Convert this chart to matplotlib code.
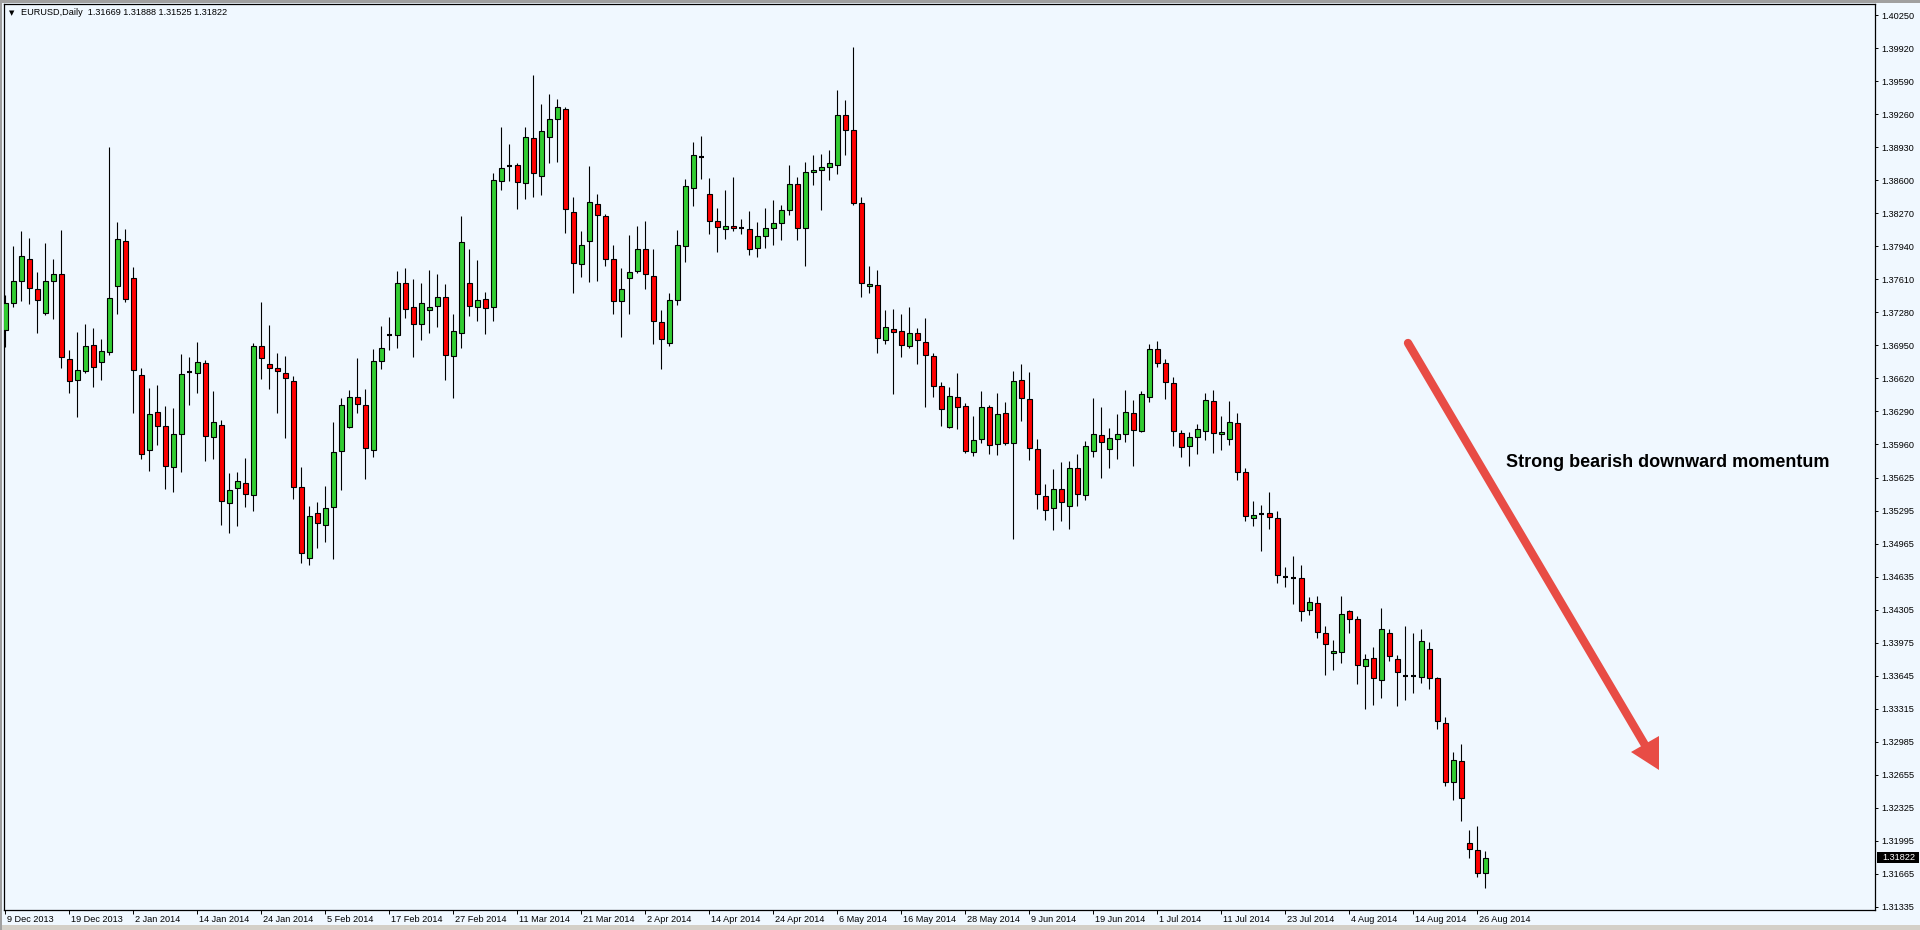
import matplotlib
matplotlib.use("Agg")
import matplotlib.pyplot as plt
from matplotlib.patches import Rectangle, Polygon
from matplotlib.lines import Line2D
from matplotlib.transforms import ScaledTranslation
import numpy as np

# EURUSD daily candles, 9 Dec 2013 .. 27 Aug 2014
opens = [1.3710, 1.3737, 1.3759, 1.3781, 1.3751, 1.3727, 1.3759, 1.3766, 1.3681, 1.3660,
         1.3669, 1.3695, 1.3678, 1.3688, 1.3754, 1.3799, 1.3762, 1.3665, 1.3590, 1.3628,
         1.3614, 1.3573, 1.3606, 1.3668, 1.3667, 1.3677, 1.3603, 1.3615, 1.3537, 1.3552,
         1.3557, 1.3545, 1.3694, 1.3676, 1.3672, 1.3667, 1.3659, 1.3553, 1.3482, 1.3527,
         1.3515, 1.3533, 1.3589, 1.3613, 1.3643, 1.3635, 1.3590, 1.3679, 1.3705, 1.3705,
         1.3757, 1.3733, 1.3716, 1.3730, 1.3734, 1.3743, 1.3684, 1.3707, 1.3757, 1.3733,
         1.3741, 1.3733, 1.3859, 1.3874, 1.3875, 1.3857, 1.3902, 1.3864, 1.3903, 1.3921,
         1.3931, 1.3828, 1.3776, 1.3799, 1.3836, 1.3824, 1.3781, 1.3739, 1.3762, 1.3769,
         1.3791, 1.3764, 1.3718, 1.3697, 1.3740, 1.3794, 1.3852, 1.3883, 1.3846, 1.3819,
         1.3811, 1.3814, 1.3812, 1.3811, 1.3792, 1.3804, 1.3812, 1.3817, 1.3830, 1.3856,
         1.3812, 1.3868, 1.3870, 1.3873, 1.3875, 1.3925, 1.3910, 1.3837, 1.3754, 1.3755,
         1.3700, 1.3711, 1.3709, 1.3694, 1.3707, 1.3698, 1.3684, 1.3654, 1.3613, 1.3643,
         1.3634, 1.3588, 1.3601, 1.3633, 1.3596, 1.3627, 1.3597, 1.3660, 1.3641, 1.3591,
         1.3544, 1.3532, 1.3551, 1.3534, 1.3572, 1.3545, 1.3589, 1.3605, 1.3591, 1.3601,
         1.3606, 1.3627, 1.3609, 1.3643, 1.3691, 1.3677, 1.3657, 1.3607, 1.3594, 1.3603,
         1.3609, 1.3639, 1.3606, 1.3601, 1.3617, 1.3568, 1.3522, 1.3526, 1.3527, 1.3522,
         1.3463, 1.3462, 1.3462, 1.3430, 1.3437, 1.3407, 1.3387, 1.3388, 1.3429, 1.3421,
         1.3374, 1.3382, 1.3360, 1.3407, 1.3381, 1.3364, 1.3364, 1.3363, 1.3391, 1.3362,
         1.3317, 1.3258, 1.3279, 1.3197, 1.3190, 1.31669]
highs = [1.3745, 1.3794, 1.3809, 1.3802, 1.3768, 1.3797, 1.3781, 1.3810, 1.3690, 1.3708,
         1.3716, 1.3712, 1.3701, 1.3893, 1.3818, 1.3811, 1.3773, 1.3672, 1.3652, 1.3655,
         1.3634, 1.3632, 1.3686, 1.3683, 1.3698, 1.3680, 1.3649, 1.3620, 1.3567, 1.3568,
         1.3582, 1.3697, 1.3738, 1.3715, 1.3687, 1.3684, 1.3664, 1.3573, 1.3534, 1.3538,
         1.3554, 1.3618, 1.3642, 1.3650, 1.3682, 1.3651, 1.3691, 1.3714, 1.3723, 1.3769,
         1.3772, 1.3761, 1.3757, 1.3770, 1.3766, 1.3756, 1.3726, 1.3824, 1.3791, 1.3780,
         1.3748, 1.3867, 1.3913, 1.3896, 1.3877, 1.3913, 1.3965, 1.3936, 1.3946, 1.3941,
         1.3933, 1.3843, 1.3809, 1.3874, 1.3846, 1.3826, 1.3795, 1.3772, 1.3805, 1.3814,
         1.3819, 1.3791, 1.3730, 1.3747, 1.3810, 1.3861, 1.3898, 1.3904, 1.3862, 1.3832,
         1.3850, 1.3863, 1.3821, 1.3829, 1.3818, 1.3832, 1.3840, 1.3835, 1.3875, 1.3863,
         1.3878, 1.3885, 1.3886, 1.3890, 1.3950, 1.3940, 1.3993, 1.3843, 1.3774, 1.3770,
         1.3730, 1.3731, 1.3726, 1.3733, 1.3712, 1.3722, 1.3687, 1.3658, 1.3653, 1.3667,
         1.3637, 1.3624, 1.3649, 1.3635, 1.3647, 1.3638, 1.3669, 1.3676, 1.3668, 1.3601,
         1.3556, 1.3571, 1.3578, 1.3579, 1.3586, 1.3599, 1.3642, 1.3633, 1.3612, 1.3626,
         1.3650, 1.3640, 1.3649, 1.3696, 1.3699, 1.3681, 1.3663, 1.3610, 1.3608, 1.3616,
         1.3647, 1.3650, 1.3624, 1.3639, 1.3627, 1.3572, 1.3539, 1.3535, 1.3548, 1.3529,
         1.3473, 1.3484, 1.3475, 1.3443, 1.3444, 1.3414, 1.3400, 1.3444, 1.3430, 1.3424,
         1.3386, 1.3393, 1.3432, 1.3411, 1.3385, 1.3414, 1.3407, 1.3411, 1.3398, 1.3363,
         1.3323, 1.3288, 1.3296, 1.3210, 1.3214, 1.31888]
lows = [1.3693, 1.3733, 1.3739, 1.3736, 1.3707, 1.3725, 1.3721, 1.3672, 1.3647, 1.3623,
        1.3667, 1.3653, 1.3660, 1.3685, 1.3726, 1.3738, 1.3627, 1.3581, 1.3569, 1.3595,
        1.3551, 1.3548, 1.3568, 1.3635, 1.3647, 1.3579, 1.3581, 1.3515, 1.3507, 1.3514,
        1.3533, 1.3529, 1.3661, 1.3651, 1.3627, 1.3602, 1.3541, 1.3477, 1.3475, 1.3492,
        1.3498, 1.3481, 1.3550, 1.3612, 1.3627, 1.3561, 1.3583, 1.3671, 1.3690, 1.3692,
        1.3722, 1.3683, 1.3700, 1.3707, 1.3713, 1.3660, 1.3642, 1.3692, 1.3724, 1.3719,
        1.3706, 1.3719, 1.3850, 1.3859, 1.3831, 1.3841, 1.3843, 1.3845, 1.3877, 1.3878,
        1.3807, 1.3747, 1.3763, 1.3758, 1.3759, 1.3774, 1.3726, 1.3703, 1.3726, 1.3767,
        1.3751, 1.3696, 1.3671, 1.3694, 1.3735, 1.3778, 1.3834, 1.3861, 1.3806, 1.3788,
        1.3801, 1.3809, 1.3806, 1.3785, 1.3783, 1.3792, 1.3795, 1.3800, 1.3825, 1.3800,
        1.3774, 1.3855, 1.3830, 1.3860, 1.3866, 1.3885, 1.3835, 1.3743, 1.3747, 1.3687,
        1.3696, 1.3646, 1.3683, 1.3692, 1.3676, 1.3633, 1.3643, 1.3614, 1.3612, 1.3611,
        1.3587, 1.3584, 1.3597, 1.3586, 1.3585, 1.3595, 1.3501, 1.3619, 1.3580, 1.3531,
        1.3520, 1.3510, 1.3519, 1.3511, 1.3534, 1.3540, 1.3583, 1.3562, 1.3572, 1.3581,
        1.3598, 1.3574, 1.3608, 1.3638, 1.3673, 1.3641, 1.3594, 1.3583, 1.3574, 1.3586,
        1.3600, 1.3587, 1.3590, 1.3595, 1.3560, 1.3519, 1.3514, 1.3489, 1.3511, 1.3457,
        1.3453, 1.3436, 1.3419, 1.3425, 1.3402, 1.3365, 1.3370, 1.3377, 1.3407, 1.3356,
        1.3331, 1.3335, 1.3342, 1.3379, 1.3334, 1.3340, 1.3347, 1.3357, 1.3351, 1.3311,
        1.3254, 1.3240, 1.3219, 1.3182, 1.3163, 1.31525]
closes = [1.3737, 1.3759, 1.3784, 1.3752, 1.3740, 1.3759, 1.3766, 1.3683, 1.3659, 1.3670,
          1.3694, 1.3673, 1.3689, 1.3742, 1.3801, 1.3741, 1.3670, 1.3586, 1.3626, 1.3614,
          1.3574, 1.3606, 1.3666, 1.3668, 1.3678, 1.3604, 1.3618, 1.3539, 1.3550, 1.3559,
          1.3546, 1.3694, 1.3682, 1.3672, 1.3669, 1.3662, 1.3553, 1.3487, 1.3524, 1.3517,
          1.3532, 1.3588, 1.3635, 1.3643, 1.3636, 1.3592, 1.3679, 1.3692, 1.3705, 1.3757,
          1.3731, 1.3716, 1.3737, 1.3733, 1.3743, 1.3685, 1.3709, 1.3798, 1.3734, 1.3740,
          1.3732, 1.3860, 1.3872, 1.3874, 1.3858, 1.3903, 1.3867, 1.3909, 1.3921, 1.3933,
          1.3831, 1.3777, 1.3795, 1.3838, 1.3825, 1.3781, 1.3739, 1.3751, 1.3768, 1.3791,
          1.3766, 1.3719, 1.3701, 1.3740, 1.3795, 1.3854, 1.3885, 1.3883, 1.3819, 1.3813,
          1.3814, 1.3812, 1.3812, 1.3791, 1.3804, 1.3812, 1.3817, 1.3830, 1.3856, 1.3812,
          1.3868, 1.3870, 1.3873, 1.3877, 1.3925, 1.3910, 1.3837, 1.3757, 1.3756, 1.3702,
          1.3713, 1.3708, 1.3695, 1.3707, 1.3700, 1.3685, 1.3654, 1.3631, 1.3644, 1.3633,
          1.3589, 1.3600, 1.3633, 1.3595, 1.3626, 1.3597, 1.3659, 1.3642, 1.3592, 1.3546,
          1.3530, 1.3551, 1.3538, 1.3572, 1.3546, 1.3594, 1.3606, 1.3598, 1.3602, 1.3606,
          1.3628, 1.3610, 1.3646, 1.3691, 1.3677, 1.3658, 1.3609, 1.3593, 1.3603, 1.3611,
          1.3640, 1.3607, 1.3608, 1.3618, 1.3568, 1.3524, 1.3525, 1.3526, 1.3523, 1.3465,
          1.3463, 1.3462, 1.3429, 1.3438, 1.3408, 1.3396, 1.3389, 1.3426, 1.3421, 1.3375,
          1.3381, 1.3362, 1.3411, 1.3384, 1.3368, 1.3364, 1.3364, 1.3399, 1.3362, 1.3319,
          1.3258, 1.3280, 1.3242, 1.3191, 1.3167, 1.31822]

date_labels = ["9 Dec 2013", "19 Dec 2013", "2 Jan 2014", "14 Jan 2014", "24 Jan 2014",
               "5 Feb 2014", "17 Feb 2014", "27 Feb 2014", "11 Mar 2014", "21 Mar 2014",
               "2 Apr 2014", "14 Apr 2014", "24 Apr 2014", "6 May 2014", "16 May 2014",
               "28 May 2014", "9 Jun 2014", "19 Jun 2014", "1 Jul 2014", "11 Jul 2014",
               "23 Jul 2014", "4 Aug 2014", "14 Aug 2014", "26 Aug 2014"]
label_step = 8

price_ticks = [1.40250, 1.39920, 1.39590, 1.39260, 1.38930, 1.38600, 1.38270, 1.37940,
               1.37610, 1.37280, 1.36950, 1.36620, 1.36290, 1.35960, 1.35625, 1.35295,
               1.34965, 1.34635, 1.34305, 1.33975, 1.33645, 1.33315, 1.32985, 1.32655,
               1.32325, 1.31995, 1.31665, 1.31335]

header = "EURUSD,Daily  1.31669 1.31888 1.31525 1.31822"
note = "Strong bearish downward momentum"

W, H = 1920, 930
bg = "#F0F8FF"
plt.rcParams["font.family"] = ["Liberation Sans", "DejaVu Sans"]

fig = plt.figure(figsize=(W / 100, H / 100), dpi=100, facecolor=bg)
# plot frame: x 4..1875, y 4..910 (image pixels)
ax = fig.add_axes([4 / W, (H - 910) / H, 1871 / W, 906 / H])
ax.set_facecolor(bg)

o = np.array(opens)
hi = np.array(highs)
lo = np.array(lows)
c = np.array(closes)
x = np.arange(len(o))

ax.vlines(x, lo, hi, color="black", lw=0.8, zorder=2)
up = c > o
dn = c < o
eq = c == o
bw = 0.6
ax.bar(x[up], (c - o)[up], bottom=o[up], width=bw, color="#32CD32",
       edgecolor="black", linewidth=0.8, zorder=3)
ax.bar(x[dn], (o - c)[dn], bottom=c[dn], width=bw, color="#FF0000",
       edgecolor="black", linewidth=0.8, zorder=3)
ax.hlines(c[eq], x[eq] - bw / 2, x[eq] + bw / 2, color="black", lw=1.5, zorder=3)

ax.set_xlim((4 - 5.33) / 8, (1875 - 5.33) / 8)
ax.set_ylim(1.31303, 1.40363)

for s in ax.spines.values():
    s.set_color("black")
    s.set_linewidth(0.9)

ax.yaxis.tick_right()
ax.set_yticks(price_ticks)
ax.set_yticklabels(["%.5f" % p for p in price_ticks])
ax.tick_params(axis="y", direction="out", length=2.5, width=0.7, pad=2,
               labelsize=6.6, colors="black")

ax.set_xticks(np.arange(0, len(o), label_step))
ax.set_xticklabels(date_labels)
ax.tick_params(axis="x", direction="out", length=3, width=0.7, pad=0.5,
               labelsize=6.6, colors="black")
shift = ScaledTranslation(1.5 / 100, 0, fig.dpi_scale_trans)
for lbl in ax.get_xticklabels():
    lbl.set_horizontalalignment("left")
    lbl.set_transform(lbl.get_transform() + shift)

# window chrome
fig.add_artist(Rectangle((0, (H - 3) / H), 1, 3 / H, transform=fig.transFigure,
                         color="#A0A0A0", lw=0))
fig.add_artist(Rectangle((0, 0), 1, 5 / H, transform=fig.transFigure,
                         color="#D4D0C8", lw=0))
fig.add_artist(Rectangle((0, 0), 2 / W, 1, transform=fig.transFigure,
                         color="#A0A0A0", lw=0))

# header text
fig.text(9 / W, 1 - 13 / H, "\u25bc", fontsize=5, va="center", ha="left",
         family="DejaVu Sans", color="black")
fig.text(21 / W, 1 - 12.5 / H, header, fontsize=6.6, va="center", ha="left",
         color="black")

# last price box
fig.add_artist(Rectangle((1877 / W, 1 - 863 / H), 42 / W, 11 / H,
                         transform=fig.transFigure, color="black", lw=0))
fig.text(1882 / W, 1 - 857.5 / H, "%.5f" % closes[-1], fontsize=6.6,
         va="center", ha="left", color="white")

# annotation arrow and text
red = "#E84C45"
sx, sy = 1408, 343
bx, by = 1645, 745
fig.add_artist(Line2D([sx / W, bx / W], [1 - sy / H, 1 - by / H],
                      transform=fig.transFigure, color=red, lw=6,
                      solid_capstyle="round"))
head = [(1659, 770), (1631, 752), (1659, 736)]
fig.add_artist(Polygon([(px / W, 1 - py / H) for px, py in head],
                       closed=True, transform=fig.transFigure, color=red, lw=0))
fig.text(1506 / W, 1 - 462 / H, note, fontsize=13.0, fontweight="bold",
         va="center", ha="left", color="black")

fig.savefig("out.png", dpi=100, facecolor=bg)
